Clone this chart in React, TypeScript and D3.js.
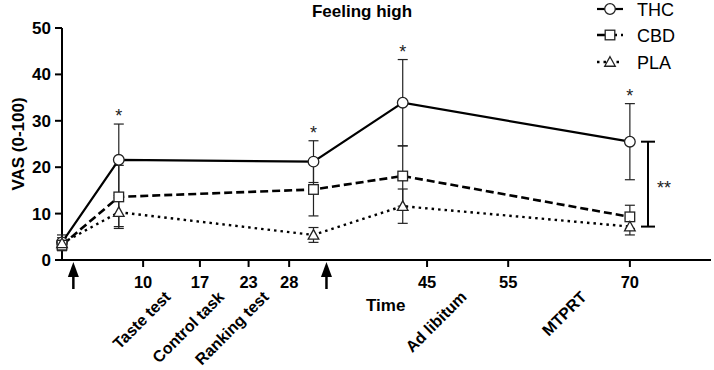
import React from "react";
import * as d3 from "d3";

const times = [0, 7, 31, 42, 70];
const thc = [3.8, 21.6, 21.2, 33.9, 25.5];
const thcErr = [1.6, 7.7, 4.5, 9.3, 8.2];
const cbd = [3.2, 13.6, 15.2, 18.1, 9.3];
const cbdErr = [1.2, 6.8, 5.7, 6.5, 2.5];
const pla = [3.6, 10.3, 5.4, 11.6, 7.2];
const plaErr = [1.2, 3.1, 1.6, 3.7, 1.8];
const starTimes = [7, 31, 42, 70];
const xTicks = [10, 17, 23, 28, 45, 55, 70];
const yTicks = [0, 10, 20, 30, 40, 50];
const eventLabels = ["Taste test", "Control task", "Ranking test", "Ad libitum", "MTPRT"];
const eventTimes = [13.5, 20.1, 25.6, 50.0, 64.8];
const arrowTimes = [1.4, 32.6];
const seriesNames = ["THC", "CBD", "PLA"];

const FONT = "'Liberation Sans', Arial, Helvetica, sans-serif";

export default function App() {
  const W = 714, H = 370;
  const x = d3.scaleLinear().domain([0, 80]).range([62, 711]);
  const y = d3.scaleLinear().domain([0, 50]).range([260, 28]);
  const line = d3
    .line<number>()
    .x((_, i) => x(times[i]))
    .y((d) => y(d));

  const series = [
    { name: seriesNames[0], vals: thc, err: thcErr, dash: undefined, width: 2.2, marker: "circle" },
    { name: seriesNames[1], vals: cbd, err: cbdErr, dash: "8,4", width: 2.6, marker: "square" },
    { name: seriesNames[2], vals: pla, err: plaErr, dash: "2.5,4", width: 2.4, marker: "triangle" },
  ];

  const marker = (type: string, cx: number, cy: number, key: string) => {
    if (type === "circle")
      return <circle key={key} cx={cx} cy={cy} r={5.3} fill="white" stroke="#222" strokeWidth={1.3} />;
    if (type === "square")
      return <rect key={key} x={cx - 4.8} y={cy - 4.8} width={9.6} height={9.6} fill="white" stroke="#222" strokeWidth={1.3} />;
    const s = 5.3;
    return (
      <path
        key={key}
        d={`M${cx},${cy - s}L${cx + s},${cy + s * 0.8}L${cx - s},${cy + s * 0.8}Z`}
        fill="white"
        stroke="#222"
        strokeWidth={1.3}
      />
    );
  };

  const legendY = [9, 35, 62];

  return (
    <svg width={W} height={H} style={{ position: "absolute", left: 0, top: 0 }} fontFamily={FONT}>
      <rect width={W} height={H} fill="white" />
      {/* title */}
      <text x={362} y={17} textAnchor="middle" fontWeight="bold" fontSize={17}>
        Feeling high
      </text>

      {/* y axis */}
      <line x1={62} x2={62} y1={y(50)} y2={y(0)} stroke="#000" strokeWidth={2} />
      {yTicks.map((t) => (
        <g key={"yt" + t}>
          <line x1={55} x2={62} y1={y(t)} y2={y(t)} stroke="#000" strokeWidth={2} />
          <text x={51} y={y(t) + 6} textAnchor="end" fontWeight="bold" fontSize={17}>
            {t}
          </text>
        </g>
      ))}
      <text
        transform={`translate(24,${(y(0) + y(50)) / 2}) rotate(-90)`}
        textAnchor="middle"
        fontWeight="bold"
        fontSize={17}
      >
        VAS (0-100)
      </text>

      {/* x axis */}
      <line x1={x(0) - 1} x2={x(80)} y1={y(0)} y2={y(0)} stroke="#000" strokeWidth={2} />
      {xTicks.map((t) => (
        <g key={"xt" + t}>
          <line x1={x(t)} x2={x(t)} y1={y(0)} y2={y(0) + 7} stroke="#000" strokeWidth={2} />
          <text x={x(t)} y={y(0) + 28} textAnchor="middle" fontWeight="bold" fontSize={16.5}>
            {t}
          </text>
        </g>
      ))}
      <text x={366} y={311} fontWeight="bold" fontSize={17}>
        Time
      </text>
      {eventLabels.map((lab, i) => (
        <text
          key={lab}
          transform={`translate(${x(eventTimes[i])},${298}) rotate(-45)`}
          textAnchor="end"
          fontWeight="bold"
          fontSize={16}
        >
          {lab}
        </text>
      ))}
      {arrowTimes.map((t) => (
        <g key={"ar" + t}>
          <line x1={x(t)} x2={x(t)} y1={y(0) + 14} y2={y(0) + 29} stroke="#000" strokeWidth={2.5} />
          <path
            d={`M${x(t)},${y(0) + 2}L${x(t) + 5.5},${y(0) + 17}L${x(t) - 5.5},${y(0) + 17}Z`}
            fill="#000"
          />
        </g>
      ))}

      {/* error bars */}
      {series.map((s) =>
        s.vals.map((v, i) => {
          const cx = x(times[i]);
          const top = y(v + s.err[i]);
          const bot = y(v - s.err[i]);
          return (
            <g key={s.name + "e" + i} stroke="#222" strokeWidth={1.2}>
              <line x1={cx} x2={cx} y1={top} y2={bot} />
              <line x1={cx - 5} x2={cx + 5} y1={top} y2={top} />
              <line x1={cx - 5} x2={cx + 5} y1={bot} y2={bot} />
            </g>
          );
        })
      )}

      {/* lines */}
      {series.map((s) => (
        <path
          key={s.name + "l"}
          d={line(s.vals) || ""}
          fill="none"
          stroke="#000"
          strokeWidth={s.width}
          strokeDasharray={s.dash}
        />
      ))}

      {/* markers */}
      {series.map((s) => s.vals.map((v, i) => marker(s.marker, x(times[i]), y(v), s.name + "m" + i)))}

      {/* stars */}
      {starTimes.map((t) => {
        const i = times.indexOf(t);
        return (
          <text key={"st" + t} x={x(t)} y={y(thc[i] + thcErr[i]) - 2} textAnchor="middle" fontSize={18} fill="#222">
            *
          </text>
        );
      })}

      {/* significance bracket */}
      {(() => {
        const i = times.indexOf(70);
        const bx = 648;
        const t = y(thc[i]);
        const b = y(pla[i]);
        return (
          <g>
            <line x1={bx} x2={bx} y1={t} y2={b} stroke="#000" strokeWidth={2} />
            <line x1={bx - 7} x2={bx + 7} y1={t} y2={t} stroke="#000" strokeWidth={2} />
            <line x1={bx - 7} x2={bx + 7} y1={b} y2={b} stroke="#000" strokeWidth={2} />
            <text x={657} y={(t + b) / 2 + 10} fontSize={18} fill="#222">
              **
            </text>
          </g>
        );
      })()}

      {/* legend */}
      {series.map((s, k) => (
        <g key={s.name + "lg"}>
          <line
            x1={597}
            x2={623}
            y1={legendY[k]}
            y2={legendY[k]}
            stroke="#000"
            strokeWidth={s.width}
            strokeDasharray={s.dash}
          />
          {marker(s.marker, 610, legendY[k], s.name + "lgm")}
          <text x={637} y={legendY[k] + 6.5} fontSize={18}>
            {s.name}
          </text>
        </g>
      ))}
    </svg>
  );
}
